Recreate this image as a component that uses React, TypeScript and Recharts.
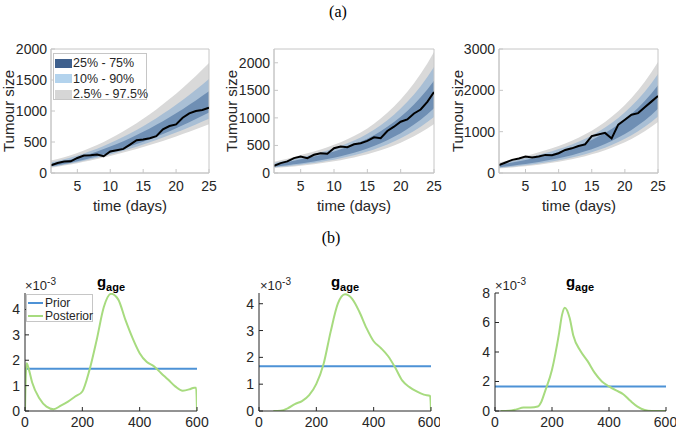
import React from "react";
import { ComposedChart, Area, Line, XAxis, YAxis, ReferenceArea } from "recharts";

// (a) tumour growth, days 1..25
const days = [1, 2, 3, 4, 5, 6, 7, 8, 9, 10, 11, 12, 13, 14, 15, 16, 17, 18, 19, 20, 21, 22, 23, 24, 25];

const p1Obs = [124, 162, 184, 189, 243, 281, 286, 297, 270, 346, 368, 389, 459, 530, 540, 562, 595, 703, 757, 784, 892, 962, 1000, 1016, 1054];
const p1Lo975 = [86, 102, 120, 139, 159, 180, 202, 225, 250, 275, 302, 329, 358, 388, 419, 451, 484, 518, 554, 590, 628, 666, 706, 747, 788];
const p1Lo90 = [96, 113, 132, 152, 174, 196, 220, 245, 273, 300, 330, 360, 392, 425, 460, 496, 533, 571, 611, 652, 695, 738, 783, 830, 877];
const p1Lo75 = [108, 126, 146, 167, 190, 215, 241, 268, 298, 328, 361, 394, 430, 467, 505, 545, 587, 630, 675, 721, 769, 818, 869, 922, 975];
const p1Hi75 = [149, 170, 193, 219, 248, 279, 312, 348, 386, 426, 469, 514, 562, 612, 665, 719, 777, 836, 899, 963, 1030, 1099, 1170, 1244, 1320];
const p1Hi90 = [172, 195, 221, 249, 281, 315, 353, 393, 436, 482, 531, 583, 638, 695, 756, 819, 885, 954, 1026, 1101, 1179, 1259, 1342, 1429, 1518];
const p1Hi975 = [202, 227, 256, 288, 324, 363, 406, 452, 502, 555, 612, 672, 736, 803, 874, 948, 1026, 1107, 1192, 1280, 1372, 1467, 1566, 1668, 1774];

const p2Obs = [132, 180, 210, 270, 300, 270, 330, 360, 348, 450, 480, 468, 522, 540, 582, 648, 630, 762, 840, 930, 972, 1080, 1152, 1290, 1470];
const p2Lo975 = [90, 99, 109, 120, 132, 145, 159, 175, 193, 212, 233, 257, 283, 311, 342, 376, 414, 455, 500, 551, 606, 666, 733, 806, 887];
const p2Lo90 = [102, 112, 124, 137, 151, 166, 182, 200, 221, 242, 266, 293, 322, 353, 389, 428, 471, 519, 571, 629, 693, 762, 840, 924, 1018];
const p2Lo75 = [115, 128, 142, 158, 174, 192, 210, 231, 254, 278, 305, 335, 368, 404, 445, 490, 540, 595, 656, 723, 797, 878, 968, 1066, 1175];
const p2Hi75 = [159, 179, 200, 223, 248, 273, 299, 327, 358, 392, 429, 471, 515, 565, 622, 687, 758, 837, 924, 1020, 1126, 1243, 1373, 1515, 1673];
const p2Hi90 = [181, 204, 228, 256, 284, 313, 343, 375, 410, 449, 491, 538, 589, 646, 711, 785, 867, 958, 1059, 1169, 1291, 1426, 1575, 1740, 1922];
const p2Hi975 = [205, 232, 260, 292, 325, 358, 392, 428, 468, 512, 560, 613, 670, 735, 809, 894, 988, 1092, 1207, 1333, 1473, 1628, 1799, 1988, 2197];

const p3Obs = [191, 255, 318, 350, 398, 374, 398, 438, 430, 478, 557, 597, 653, 693, 892, 931, 971, 836, 1170, 1290, 1409, 1449, 1592, 1727, 1863];
const p3Lo975 = [110, 122, 135, 149, 165, 182, 201, 223, 246, 272, 301, 333, 369, 408, 451, 499, 551, 610, 675, 746, 825, 913, 1009, 1116, 1235];
const p3Lo90 = [123, 137, 153, 169, 187, 207, 228, 252, 278, 306, 338, 373, 413, 455, 503, 555, 613, 677, 749, 827, 914, 1011, 1117, 1235, 1366];
const p3Lo75 = [141, 159, 178, 198, 219, 242, 267, 295, 324, 356, 392, 432, 476, 524, 577, 637, 702, 775, 856, 944, 1043, 1153, 1273, 1406, 1555];
const p3Hi75 = [195, 224, 254, 284, 316, 349, 383, 421, 462, 506, 554, 606, 665, 729, 801, 881, 969, 1067, 1176, 1296, 1430, 1577, 1740, 1921, 2121];
const p3Hi90 = [222, 256, 291, 326, 363, 400, 440, 483, 529, 578, 632, 691, 757, 830, 910, 1000, 1099, 1209, 1332, 1468, 1618, 1784, 1968, 2172, 2397];
const p3Hi975 = [250, 290, 330, 370, 412, 455, 500, 548, 600, 655, 715, 781, 854, 935, 1025, 1125, 1236, 1359, 1496, 1648, 1816, 2002, 2208, 2436, 2688];

const dayTicks = [5, 10, 15, 20, 25];
const bandLabels = ["25% - 75%", "10% - 90%", "2.5% - 97.5%"];

// (b) g_age densities, in units of 1e-3
const priorLevel = 1.667;
const b1X = [0, 3, 6, 12, 25, 50, 75, 100, 125, 150, 175, 200, 225, 250, 275, 300, 325, 350, 375, 400, 425, 450, 475, 500, 525, 550, 575, 590, 597, 600];
const b1Post = [0, 1.5, 1.88, 1.7, 1.12, 0.5, 0.17, 0.07, 0.21, 0.37, 0.57, 0.77, 1.62, 2.8, 4.1, 4.62, 4.4, 3.6, 2.88, 2.28, 1.93, 1.76, 1.49, 1.23, 0.96, 0.8, 0.86, 0.92, 0.92, 0];
const b2X = [50, 75, 100, 125, 150, 175, 200, 225, 250, 275, 300, 325, 350, 375, 400, 425, 450, 475, 500, 525, 550, 575, 597, 600];
const b2Post = [0, 0.01, 0.1, 0.26, 0.37, 0.59, 1.01, 1.74, 2.96, 4.0, 4.35, 4.18, 3.7, 3.09, 2.6, 2.35, 2.05, 1.62, 1.13, 0.89, 0.73, 0.61, 0.56, 0];
const b3X = [20, 50, 75, 100, 125, 150, 162, 175, 200, 225, 235, 245, 262, 275, 300, 325, 350, 375, 400, 425, 450, 475, 500, 525, 550, 575, 600];
const b3Post = [0, 0.02, 0.11, 0.23, 0.23, 0.3, 0.6, 1.3, 2.8, 5.3, 6.5, 7.0, 6.3, 5.1, 4.07, 3.38, 2.58, 2.0, 1.67, 1.39, 1.14, 0.69, 0.3, 0.07, 0, 0, 0];
const ageTicks = [0, 200, 400, 600];

const FONT = '"Liberation Sans", Arial, Helvetica, sans-serif';
const INK = "#262626";
const FRAME = "#c6c6c6";
const GRAY = "#d9d9d9";
const MID = "#a9bfd5";
const DARK = "#6f8fb4";
const PRIOR = "#4d92d6";
const POST = "#a7db7f";
const SWATCHES = ["#3f608d", "#b3d3ed", "#d6d6d6"];

const bandRows = (obs: number[], lo975: number[], lo90: number[], lo75: number[], hi75: number[], hi90: number[], hi975: number[]) =>
  days.map((t, i) => ({
    t,
    g: [lo975[i], hi975[i]],
    l: [lo90[i], hi90[i]],
    d: [lo75[i], hi75[i]],
    obs: obs[i],
  }));

const densityRows = (xs: number[], post: number[]) => {
  const rows: { x: number; post?: number; prior: number }[] = [];
  if (xs[0] > 0) rows.push({ x: 0, prior: priorLevel });
  xs.forEach((x, i) => rows.push({ x, post: post[i], prior: priorLevel }));
  return rows;
};

function TumourPanel(props: { left: number; width: number; plotLeft: number; plotRight: number; yMax: number; yTicks: number[]; rows: any[] }) {
  const { left, width, plotLeft, plotRight, yMax, yTicks, rows } = props;
  return (
    <div style={{ position: "absolute", left, top: 0 }}>
      <ComposedChart width={width} height={200} data={rows} margin={{ top: 49, right: left + width - plotRight, bottom: 7, left: 0 }}>
        <XAxis dataKey="t" type="number" domain={[1, 25]} ticks={dayTicks} allowDataOverflow height={20} tickSize={-4} tickMargin={12} stroke={FRAME} tick={{ fill: INK, fontSize: 14 }} />
        <YAxis type="number" domain={[0, yMax]} ticks={yTicks} allowDataOverflow width={plotLeft - left} tickSize={-4} tickMargin={8} stroke={FRAME} tick={{ fill: INK, fontSize: 14 }} />
        <Area dataKey="g" type="linear" stroke="none" fill={GRAY} fillOpacity={1} isAnimationActive={false} activeDot={false} />
        <Area dataKey="l" type="linear" stroke="none" fill={MID} fillOpacity={1} isAnimationActive={false} activeDot={false} />
        <Area dataKey="d" type="linear" stroke="none" fill={DARK} fillOpacity={1} isAnimationActive={false} activeDot={false} />
        <Line dataKey="obs" type="linear" stroke="#000" strokeWidth={2} dot={false} activeDot={false} isAnimationActive={false} />
        {/* axes box */}
        <ReferenceArea x1={1} x2={25} y1={0} y2={yMax} fill="none" fillOpacity={0} stroke={FRAME} strokeWidth={1} ifOverflow="visible" />
      </ComposedChart>
    </div>
  );
}

function DensityPanel(props: { left: number; width: number; plotLeft: number; plotRight: number; yMax: number; yTicks: number[]; rows: any[] }) {
  const { left, width, plotLeft, plotRight, yMax, yTicks, rows } = props;
  return (
    <div style={{ position: "absolute", left, top: 270 }}>
      <ComposedChart width={width} height={159} data={rows} margin={{ top: 23, right: left + width - plotRight, bottom: 0, left: 0 }}>
        <XAxis dataKey="x" type="number" domain={[0, 600]} ticks={ageTicks} allowDataOverflow height={18} tickSize={-4} tickMargin={10} stroke={INK} tick={{ fill: INK, fontSize: 14 }} />
        <YAxis type="number" domain={[0, yMax]} ticks={yTicks} allowDataOverflow width={plotLeft - left} tickSize={-4} tickMargin={9} stroke={INK} tick={{ fill: INK, fontSize: 14 }} />
        <Line dataKey="prior" type="linear" stroke={PRIOR} strokeWidth={2} dot={false} activeDot={false} isAnimationActive={false} />
        <Line dataKey="post" type="monotone" stroke={POST} strokeWidth={2} dot={false} activeDot={false} isAnimationActive={false} />
      </ComposedChart>
    </div>
  );
}

const abs = (left: number, top: number, extra: React.CSSProperties = {}): React.CSSProperties => ({
  position: "absolute",
  left,
  top,
  whiteSpace: "nowrap",
  color: INK,
  ...extra,
});

function YLabel({ x, y }: { x: number; y: number }) {
  return <div style={abs(x, y, { fontSize: 15, transform: "translate(-50%, -50%) rotate(-90deg)" })}>Tumour size</div>;
}

function XLabel({ x, y }: { x: number; y: number }) {
  return <div style={abs(x, y, { fontSize: 15, transform: "translate(-50%, -50%)" })}>time (days)</div>;
}

function Title({ x }: { x: number }) {
  return (
    <div style={abs(x, 273, { fontWeight: "bold", fontSize: 15, transform: "translateX(-50%)", color: "#000" })}>
      g<sub style={{ fontSize: 11, verticalAlign: "-4px" }}>age</sub>
    </div>
  );
}

function Scale({ x }: { x: number }) {
  return (
    <div style={abs(x, 276, { fontSize: 13 })}>
      ×10<sup style={{ fontSize: 10, verticalAlign: "5px" }}>-3</sup>
    </div>
  );
}

export default function App() {
  const rows1 = bandRows(p1Obs, p1Lo975, p1Lo90, p1Lo75, p1Hi75, p1Hi90, p1Hi975);
  const rows2 = bandRows(p2Obs, p2Lo975, p2Lo90, p2Lo75, p2Hi75, p2Hi90, p2Hi975);
  const rows3 = bandRows(p3Obs, p3Lo975, p3Lo90, p3Lo75, p3Hi75, p3Hi90, p3Hi975);

  return (
    <div style={{ position: "absolute", left: 0, top: 0, width: 676, height: 429, background: "#fff", fontFamily: FONT, overflow: "hidden" }}>
      <TumourPanel left={0} width={225} plotLeft={51} plotRight={209} yMax={2000} yTicks={[0, 500, 1000, 1500, 2000]} rows={rows1} />
      <TumourPanel left={225} width={220} plotLeft={274} plotRight={434} yMax={2250} yTicks={[0, 500, 1000, 1500, 2000]} rows={rows2} />
      <TumourPanel left={445} width={231} plotLeft={499} plotRight={658} yMax={3000} yTicks={[0, 1000, 2000, 3000]} rows={rows3} />

      <DensityPanel left={0} width={215} plotLeft={25} plotRight={197} yMax={4.65} yTicks={[0, 1, 2, 3, 4]} rows={densityRows(b1X, b1Post)} />
      <DensityPanel left={225} width={215} plotLeft={259} plotRight={431} yMax={4.4} yTicks={[0, 1, 2, 3, 4]} rows={densityRows(b2X, b2Post)} />
      <DensityPanel left={460} width={216} plotLeft={495} plotRight={666} yMax={8} yTicks={[0, 2, 4, 6, 8]} rows={densityRows(b3X, b3Post)} />

      <div style={abs(338, 3, { fontFamily: '"Liberation Serif", "DejaVu Serif", serif', fontSize: 16, color: "#000", transform: "translateX(-50%)" })}>(a)</div>
      <div style={abs(331, 229, { fontFamily: '"Liberation Serif", "DejaVu Serif", serif', fontSize: 16, color: "#000", transform: "translateX(-50%)" })}>(b)</div>

      <YLabel x={8} y={111} />
      <YLabel x={231} y={111} />
      <YLabel x={457} y={111} />
      <XLabel x={130} y={205} />
      <XLabel x={354} y={205} />
      <XLabel x={579} y={205} />

      {/* band legend */}
      <div style={abs(53, 53, { width: 94, height: 47, border: `1px solid ${FRAME}`, background: "#fff", boxSizing: "border-box" })}>
        {bandLabels.map((label, i) => (
          <div key={label} style={{ position: "absolute", left: 1, top: 2 + i * 15.5, height: 14, display: "flex", alignItems: "center", fontSize: 12.5 }}>
            <span style={{ display: "inline-block", width: 17, height: 9, background: SWATCHES[i], marginRight: 1 }} />
            {label}
          </div>
        ))}
      </div>

      <Title x={111} />
      <Title x={345} />
      <Title x={580} />
      <Scale x={25} />
      <Scale x={260} />
      <Scale x={495} />

      {/* prior / posterior legend */}
      <div style={abs(26, 294, { width: 67, height: 28, border: `1px solid ${FRAME}`, background: "#fff", boxSizing: "border-box", fontSize: 12 })}>
        <div style={{ position: "absolute", left: 1, top: 1, display: "flex", alignItems: "center", height: 13 }}>
          <span style={{ display: "inline-block", width: 15, height: 2, background: PRIOR, marginRight: 2 }} />
          Prior
        </div>
        <div style={{ position: "absolute", left: 1, top: 14, display: "flex", alignItems: "center", height: 13 }}>
          <span style={{ display: "inline-block", width: 15, height: 2, background: POST, marginRight: 2 }} />
          Posterior
        </div>
      </div>
    </div>
  );
}
